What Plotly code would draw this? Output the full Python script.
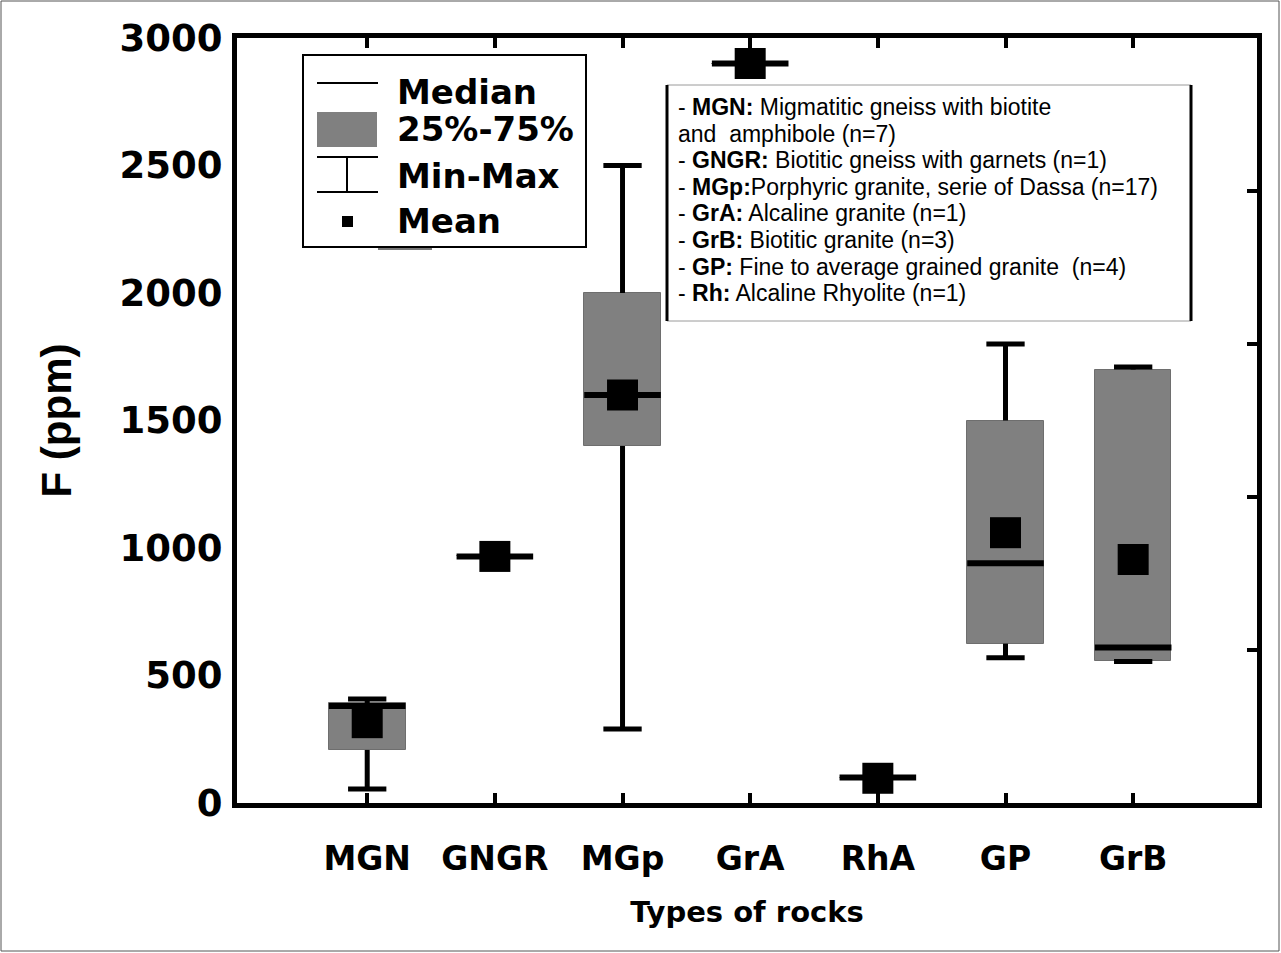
import plotly.graph_objects as go

# ---------------- data ----------------
categories = ["MGN", "GNGR", "MGp", "GrA", "RhA", "GP", "GrB"]
q1 = [208, 967, 1400, 2900, 100, 625, 557]
median = [380, 967, 1600, 2900, 100, 940, 610]
q3 = [392, 967, 2000, 2900, 100, 1500, 1700]
minimum = [55, 967, 290, 2900, 100, 570, 555]
maximum = [408, 967, 2500, 2900, 100, 1800, 1710]
mean = [315, 967, 1600, 2900, 97, 1060, 955]
y_ticks = [0, 500, 1000, 1500, 2000, 2500, 3000]
right_ticks = [600, 1200, 1800, 2400]

legend_items = ["Median", "25%-75%", "Min-Max", "Mean"]
note_lines = [
    "- <b>MGN:</b> Migmatitic gneiss with biotite",
    "and  amphibole (n=7)",
    "- <b>GNGR:</b> Biotitic gneiss with garnets (n=1)",
    "- <b>MGp:</b>Porphyric granite, serie of Dassa (n=17)",
    "- <b>GrA:</b> Alcaline granite (n=1)",
    "- <b>GrB:</b> Biotitic granite (n=3)",
    "- <b>GP:</b> Fine to average grained granite  (n=4)",
    "- <b>Rh:</b> Alcaline Rhyolite (n=1)",
]

FONT = "Liberation Sans, Arial, sans-serif"
WIDE = "DejaVu Sans, Verdana, sans-serif"
BOX_W = 0.6
CAP_W = 0.3
idx = list(range(len(categories)))

# ---------------- traces ----------------
fig = go.Figure()

fig.add_trace(go.Bar(
    x=idx, base=q1, y=[b - a for a, b in zip(q1, q3)], width=BOX_W,
    marker=dict(color="#808080", line=dict(color="#6e6e6e", width=1)),
    hoverinfo="skip", showlegend=False))

wx, wy = [], []
for i in idx:
    wx += [i, i, None, i, i, None]
    wy += [q3[i], maximum[i], None, q1[i], minimum[i], None]
fig.add_trace(go.Scatter(x=wx, y=wy, mode="lines",
                         line=dict(color="black", width=5),
                         hoverinfo="skip", showlegend=False))

cx, cy = [], []
for i in idx:
    cx += [i - CAP_W / 2, i + CAP_W / 2, None, i - CAP_W / 2, i + CAP_W / 2, None]
    cy += [maximum[i], maximum[i], None, minimum[i], minimum[i], None]
fig.add_trace(go.Scatter(x=cx, y=cy, mode="lines",
                         line=dict(color="black", width=5),
                         hoverinfo="skip", showlegend=False))

mx, my = [], []
for i in idx:
    mx += [i - BOX_W / 2, i + BOX_W / 2, None]
    my += [median[i], median[i], None]
fig.add_trace(go.Scatter(x=mx, y=my, mode="lines",
                         line=dict(color="black", width=6),
                         hoverinfo="skip", showlegend=False))

fig.add_trace(go.Scatter(x=idx, y=mean, mode="markers",
                         marker=dict(symbol="square", size=31, color="black",
                                     line=dict(width=0)),
                         hoverinfo="skip", showlegend=False))

# empty trace to attach the right-hand tick axis
fig.add_trace(go.Scatter(x=[None], y=[None], yaxis="y2", showlegend=False,
                         hoverinfo="skip"))

# ---------------- layout helpers ----------------
L, R, T, B = 237, 1257, 38, 803


def px(x):
    return (x - L) / (R - L)


def py(y):
    return (B - y) / (B - T)


shapes = []
annotations = []

# outer frame of the figure
shapes.append(dict(type="rect", xref="paper", yref="paper",
                   x0=px(1), x1=px(1279), y0=py(951), y1=py(1),
                   line=dict(color="#555555", width=1)))

# legend box
shapes.append(dict(type="rect", xref="paper", yref="paper",
                   x0=px(303), x1=px(586), y0=py(247), y1=py(55),
                   line=dict(color="black", width=2), fillcolor="white"))
shapes.append(dict(type="line", xref="paper", yref="paper",
                   x0=px(378), x1=px(432), y0=py(249), y1=py(249),
                   line=dict(color="#777777", width=2)))
# median symbol
shapes.append(dict(type="line", xref="paper", yref="paper",
                   x0=px(317), x1=px(378), y0=py(83), y1=py(83),
                   line=dict(color="black", width=2)))
# 25-75 symbol
shapes.append(dict(type="rect", xref="paper", yref="paper",
                   x0=px(317), x1=px(377), y0=py(147), y1=py(112),
                   line=dict(color="#808080", width=0), fillcolor="#808080"))
# min-max symbol
for yy in (157, 192):
    shapes.append(dict(type="line", xref="paper", yref="paper",
                       x0=px(317), x1=px(378), y0=py(yy), y1=py(yy),
                       line=dict(color="black", width=2)))
shapes.append(dict(type="line", xref="paper", yref="paper",
                   x0=px(347), x1=px(347), y0=py(157), y1=py(192),
                   line=dict(color="black", width=2)))
# mean symbol
shapes.append(dict(type="rect", xref="paper", yref="paper",
                   x0=px(342), x1=px(353), y0=py(227), y1=py(216),
                   line=dict(width=0), fillcolor="black"))

legend_y = [92, 129, 176, 221]
for txt, yy in zip(legend_items, legend_y):
    annotations.append(dict(xref="paper", yref="paper", x=px(395), y=py(yy),
                            xanchor="left", yanchor="middle", showarrow=False,
                            text="<b>%s</b>" % txt,
                            font=dict(family=WIDE, size=34, color="black")))

# description box
shapes.append(dict(type="rect", xref="paper", yref="paper",
                   x0=px(667), x1=px(1191), y0=py(321), y1=py(85),
                   line=dict(color="#9a9a9a", width=1), fillcolor="white"))
for xx in (667, 1191):
    shapes.append(dict(type="line", xref="paper", yref="paper",
                       x0=px(xx), x1=px(xx), y0=py(321), y1=py(85),
                       line=dict(color="black", width=3)))
for k, txt in enumerate(note_lines):
    yy = 107 + k * 26.6
    annotations.append(dict(xref="paper", yref="paper", x=px(676), y=py(yy),
                            xanchor="left", yanchor="middle", showarrow=False,
                            text=txt,
                            font=dict(family=FONT, size=23, color="black")))

fig.update_layout(
    width=1281, height=953,
    margin=dict(l=L, r=1281 - R, t=T, b=953 - B, autoexpand=False),
    paper_bgcolor="white", plot_bgcolor="white",
    font=dict(family=FONT, color="black"),
    bargap=0,
    shapes=shapes, annotations=annotations,
    xaxis=dict(range=[-1.02, 6.97], tickmode="array", tickvals=idx,
               ticktext=categories, ticks="inside", ticklen=10, tickwidth=4,
               tickcolor="black", showline=True, linewidth=5, linecolor="black",
               mirror="ticks", showgrid=False, zeroline=False,
               ticklabelstandoff=22,
               tickfont=dict(family=WIDE, size=33, weight="bold", color="black"),
               title=dict(text="<b>Types of rocks</b>", standoff=27,
                          font=dict(family=WIDE, size=29, color="black"))),
    yaxis=dict(range=[0, 3000], tickmode="array", tickvals=y_ticks,
               ticks="", showline=True, linewidth=5, linecolor="black",
               mirror=True, showgrid=False, zeroline=False,
               ticklabelstandoff=2,
               tickfont=dict(family=WIDE, size=37, weight="bold", color="black"),
               title=dict(text="<b>F (ppm)</b>", standoff=36,
                          font=dict(family=FONT, size=42, color="black"))),
    yaxis2=dict(range=[0, 3000], overlaying="y", side="right",
                tickmode="array", tickvals=right_ticks, ticks="inside",
                ticklen=10, tickwidth=4, tickcolor="black",
                showticklabels=False, showline=False, showgrid=False,
                zeroline=False),
)

fig.write_html("out.html",
               config={"displayModeBar": False},
               post_script="document.body.style.margin='0';"
                           "document.body.style.overflow='hidden';")
